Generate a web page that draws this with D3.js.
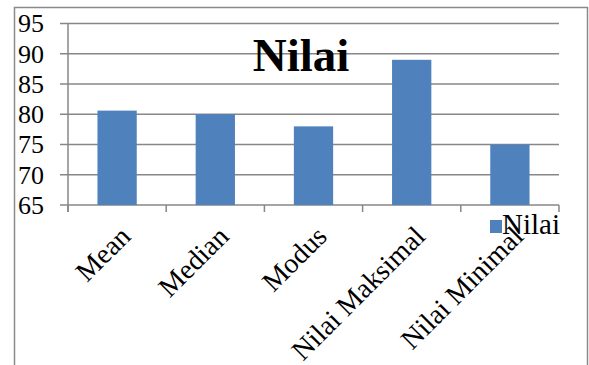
<!DOCTYPE html>
<html>
<head>
<meta charset="utf-8">
<script src="https://cdn.jsdelivr.net/npm/d3@7"></script>
<style>
  html, body { margin: 0; padding: 0; background: #fff; }
  svg { display: block; }
</style>
</head>
<body>
<svg id="chart" width="589" height="365"></svg>
<script>
const categories = ["Mean", "Median", "Modus", "Nilai Maksimal", "Nilai Minimal"];
const values = [80.6, 80, 78, 89, 75];
const yTicks = [65, 70, 75, 80, 85, 90, 95];
const seriesName = "Nilai";
const chartTitle = "Nilai";

const FONT = "Liberation Serif";
const svg = d3.select("#chart");
const plotLeft = 68, plotRight = 559, plotTop = 23.5, plotBottom = 205;
const gridColor = "#878787";
const barColor = "#4f81bd";

// outer border
svg.append("rect")
  .attr("x", 14.5).attr("y", 7.5)
  .attr("width", 573).attr("height", 400)
  .attr("fill", "none").attr("stroke", "#8a8a8a").attr("stroke-width", 1.5);

const x = d3.scaleBand().domain(categories).range([plotLeft, plotRight])
  .paddingInner(0.6).paddingOuter(0.3);
const y = d3.scaleLinear().domain([65, 95]).range([plotBottom, plotTop]);

// gridlines (extend to y tick marks)
svg.append("g").selectAll("line").data(yTicks).join("line")
  .attr("x1", plotLeft - 8).attr("x2", plotRight)
  .attr("y1", d => y(d)).attr("y2", d => y(d))
  .attr("stroke", gridColor).attr("stroke-width", 1.5);

// y axis line
svg.append("line")
  .attr("x1", plotLeft).attr("x2", plotLeft)
  .attr("y1", y(95)).attr("y2", plotBottom + 7)
  .attr("stroke", gridColor).attr("stroke-width", 1.5);

// x category boundary ticks
const step = x.step();
const bounds = d3.range(categories.length + 1).map(i => plotLeft + i * step);
svg.append("g").selectAll("line").data(bounds).join("line")
  .attr("x1", d => d).attr("x2", d => d)
  .attr("y1", plotBottom).attr("y2", plotBottom + 7)
  .attr("stroke", gridColor).attr("stroke-width", 1.5);

// y tick labels
svg.append("g").selectAll("text").data(yTicks).join("text")
  .style("font-family", FONT)
  .attr("x", 44).attr("y", d => y(d))
  .attr("dy", "0.34em")
  .attr("text-anchor", "end")
  .attr("font-size", 26)
  .attr("fill", "#000")
  .text(d => d);

// bars
svg.append("g").selectAll("rect").data(values).join("rect")
  .attr("x", (d, i) => x(categories[i]))
  .attr("width", x.bandwidth())
  .attr("y", d => y(d))
  .attr("height", d => plotBottom - y(d))
  .attr("fill", barColor);

// category labels rotated
svg.append("g").selectAll("text").data(categories).join("text")
  .style("font-family", FONT)
  .attr("transform", d => `translate(${x(d) + x.bandwidth() / 2 + 15},238) rotate(-45)`)
  .attr("text-anchor", "end")
  .attr("font-size", 28)
  .attr("fill", "#000")
  .text(d => d);

// title
svg.append("text")
  .style("font-family", FONT)
  .attr("x", 301).attr("y", 71)
  .attr("text-anchor", "middle")
  .attr("font-size", 47)
  .attr("font-weight", "bold")
  .attr("fill", "#000")
  .text(chartTitle);

// legend
svg.append("rect")
  .attr("x", 490).attr("y", 220).attr("width", 12).attr("height", 13)
  .attr("fill", barColor);
svg.append("text")
  .style("font-family", FONT)
  .attr("x", 502).attr("y", 234)
  .attr("font-size", 29)
  .attr("fill", "#000")
  .text(seriesName);
</script>
</body>
</html>
